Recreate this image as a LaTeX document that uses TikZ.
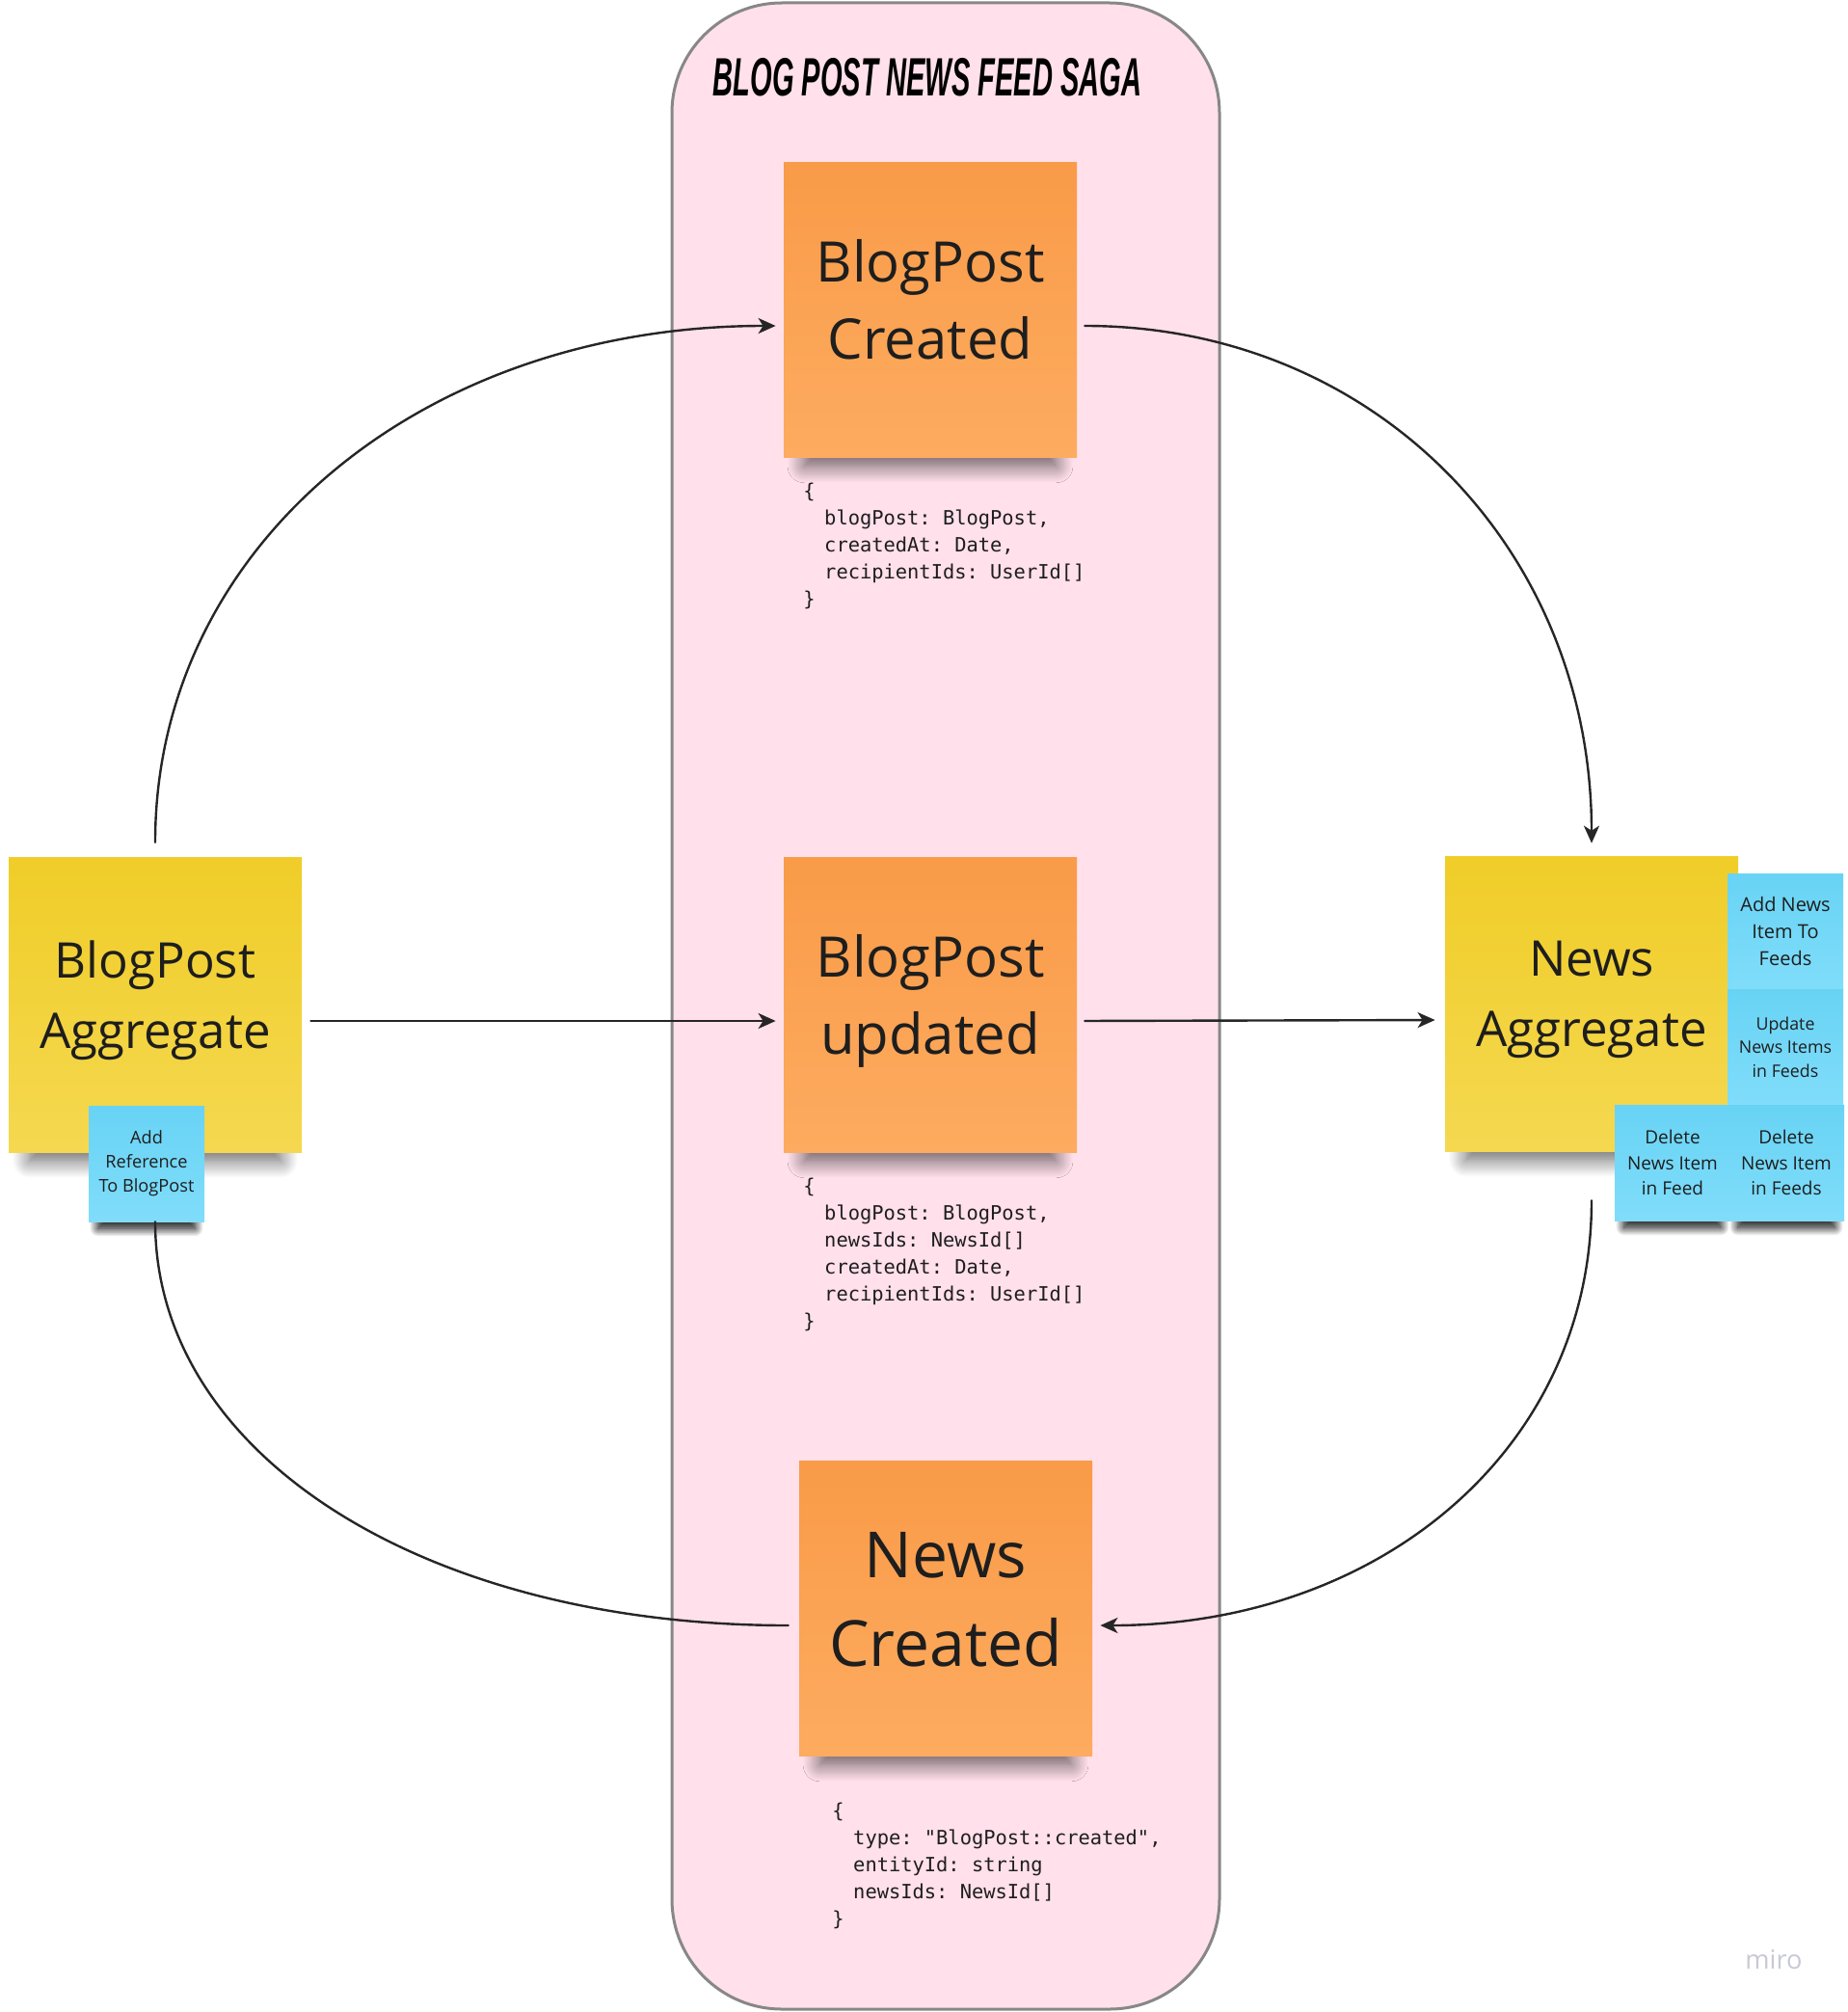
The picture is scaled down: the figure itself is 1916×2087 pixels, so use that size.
\documentclass[tikz,border=0pt]{standalone}
\usepackage{fontspec}
\setmainfont{Open Sans}
\setmonofont{DejaVu Sans Mono}
\newfontfamily\titlefont{Liberation Sans}
\usetikzlibrary{arrows.meta,shadows.blur,calc}
\definecolor{sagapink}{RGB}{255,224,235}
\definecolor{framegray}{RGB}{135,135,135}
\definecolor{orangetop}{RGB}{249,155,72}
\definecolor{orangebot}{RGB}{253,171,96}
\definecolor{yellowtop}{RGB}{240,205,40}
\definecolor{yellowbot}{RGB}{245,216,80}
\definecolor{bluetop}{RGB}{104,211,245}
\definecolor{bluebot}{RGB}{128,221,250}
\definecolor{inkgray}{RGB}{30,30,30}
\definecolor{mirogray}{RGB}{200,200,215}
\newcommand{\ind}{\hspace*{1.07em}}
\begin{document}
\begin{tikzpicture}[x=0.5pt,y=-0.5pt,line join=round,line cap=round,
		sticky/.style={inner sep=0pt,align=center,text=inkgray,
			blur shadow={shadow xshift=0pt,shadow yshift=-18pt,shadow blur radius=10pt,shadow blur steps=16,shadow opacity=60,shadow scale=0.86}},
		evt/.style={sticky,minimum width=152pt,minimum height=153pt,text depth=11pt,top color=orangetop,bottom color=orangebot,font=\fontsize{29}{40}\selectfont},
		agg/.style={sticky,minimum width=152pt,minimum height=153pt,text depth=10pt,top color=yellowtop,bottom color=yellowbot,font=\fontsize{25.5}{36.5}\selectfont},
		cmd/.style={sticky,minimum width=60pt,minimum height=60pt,top color=bluetop,bottom color=bluebot,font=\fontsize{9.5}{13.3}\selectfont,
			blur shadow={shadow xshift=0pt,shadow yshift=-10pt,shadow blur radius=5pt,shadow blur steps=12,shadow opacity=60,shadow scale=0.84}},
		code/.style={anchor=north west,inner sep=0pt,align=left,text=inkgray,font=\ttfamily\fontsize{10.2}{14}\selectfont},
		flow/.style={draw=black!85,line width=1.2pt,-{Stealth[length=9pt,width=8pt,inset=2.5pt]}},
		wire/.style={draw=black!85,line width=1.2pt}]
	\useasboundingbox (0,0) rectangle (1916,2087);
	\draw[draw=framegray,fill=sagapink,line width=1.5pt,rounded corners=57pt] (697,3) rectangle (1265,2084);
	\node (title) at (962,80) {\titlefont\bfseries\itshape\fontsize{28}{28}\selectfont\scalebox{0.52}[1]{BLOG POST NEWS FEED SAGA}};
	\node[evt] (bpcreated) at (965,321) {BlogPost\\Created};
	\node[evt] (bpupdated) at (965,1042) {BlogPost\\updated};
	\node[evt,text depth=9.5pt,font=\fontsize{33}{46}\selectfont] (newscreated) at (981,1668) {News\\Created};
	\node[agg] (bpagg) at (161,1042) {BlogPost\\Aggregate};
	\node[agg] (newsagg) at (1651,1041) {News\\Aggregate};
	\node[cmd,font=\fontsize{9.1}{12.6}\selectfont] (addref) at (152,1207) {Add\\Reference\\To BlogPost};
	\node[cmd,font=\fontsize{10}{14}\selectfont] (addnews) at (1852,966) {Add News\\Item To\\Feeds};
	\node[cmd,font=\fontsize{8.9}{12.3}\selectfont] (updnews) at (1852,1086) {Update\\News Items\\in Feeds};
	\node[cmd] (delfeed) at (1735,1206) {Delete\\News Item\\in Feed};
	\node[cmd] (delfeeds) at (1853,1206) {Delete\\News Item\\in Feeds};
	\node[code] (createdbody) at (833,501) {\{\\\ind blogPost: BlogPost,\\\ind createdAt: Date,\\\ind recipientIds: UserId[]\\\}};
	\node[code] (updatedbody) at (833,1222) {\{\\\ind blogPost: BlogPost,\\\ind newsIds: NewsId[]\\\ind createdAt: Date,\\\ind recipientIds: UserId[]\\\}};
	\node[code] (newsbody) at (863,1870) {\{\\\ind type: "BlogPost::created",\\\ind entityId: string\\\ind newsIds: NewsId[]\\\}};
	\node[text=mirogray,font=\fontsize{13.6}{14}\selectfont] (miro) at (1840,2033) {miro};
	\coordinate (newsout) at ([yshift=-25.5pt]newsagg.south);
	\draw[flow,shorten <=7.5pt,shorten >=4pt] (bpagg.north) .. controls +(0,-320) and +(-378,0) .. ([yshift=-8.5pt]bpcreated.west);
	\draw[flow,shorten <=4pt,shorten >=6.5pt] ([yshift=-8.5pt]bpcreated.east) .. controls +(309,0) and +(0,-318) .. (newsagg.north);
	\draw[flow,shorten <=4.5pt,shorten >=4pt] ([yshift=-8.5pt]bpagg.east) -- ([yshift=-8.5pt]bpupdated.west);
	\draw[flow,shorten <=4pt,shorten >=5pt] ([yshift=-8.5pt]bpupdated.east) -- ([yshift=-8.5pt]newsagg.west);
	\draw[flow,shorten >=4pt] (newsout) .. controls +(0,256) and +(300,0) .. ([yshift=-9pt]newscreated.east);
	\draw[wire,shorten <=5.5pt] ([yshift=-9pt]newscreated.west) .. controls +(-387,0) and +(0,243) .. (bpagg.center |- addref.south);
\end{tikzpicture}
\end{document}
